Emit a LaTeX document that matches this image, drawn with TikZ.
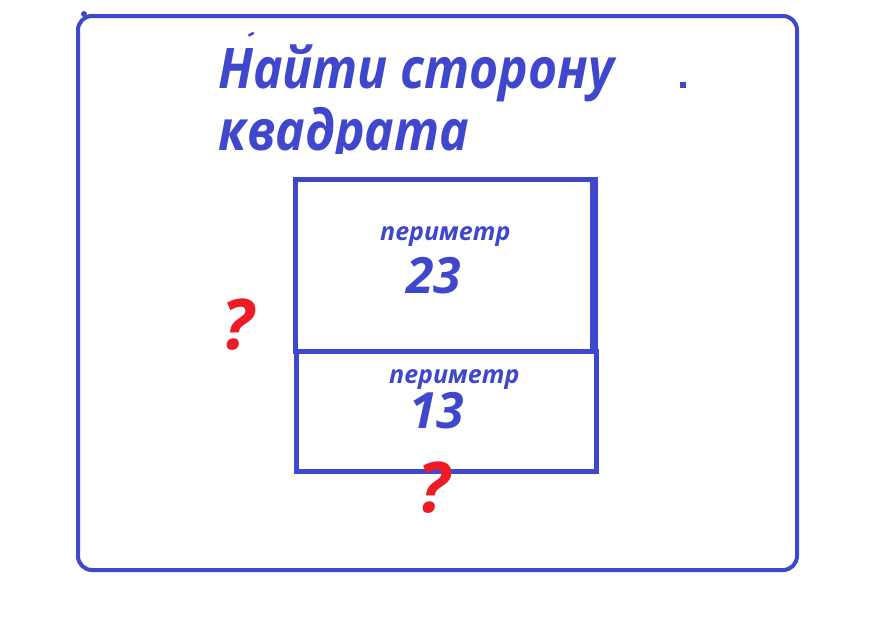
\documentclass[tikz,border=0pt]{standalone}
\usepackage{fontspec}
\setmainfont{Open Sans}
\newfontfamily\narrowfont[FakeStretch=0.89]{Open Sans}
\definecolor{pblue}{HTML}{3F48CC}
\definecolor{pred}{HTML}{ED1C24}

\begin{document}
\begin{tikzpicture}[x=1pt,y=-1pt,
		frame/.style={draw=pblue, line width=4pt, rounded corners=14pt},
		box/.style={draw=pblue, line width=5pt},
		title/.style={text=pblue, font=\narrowfont\fontsize{56}{62}\selectfont\bfseries\itshape, anchor=base west, inner sep=0pt},
		perim/.style={text=pblue, font=\fontsize{25}{26}\selectfont\bfseries\itshape, anchor=base west, inner sep=0pt},
		num/.style={text=pblue, font=\fontsize{50}{50}\selectfont\bfseries\itshape, anchor=base west, inner sep=0pt},
		ask/.style={text=pred, font=\fontsize{70}{70}\selectfont\bfseries\itshape, anchor=base west, inner sep=0pt}]
			\useasboundingbox (0,0) rectangle (884,632);
			\fill[white] (0,0) rectangle (884,632);

			\draw[frame] (78,16) rectangle (797,570); % ramka
			\fill[pblue] (84,14) circle (3);
			\fill[pblue, rotate around={30:(251,34)}] (248,33) rectangle (254,35.5);
			\fill[pblue] (680,82) rectangle (686,88);

			\begin{scope}
				\clip (0,0) rectangle (884,153);
				\node[title] (t1) at (218,88) {Найти сторону};
				\node[title] (t2) at (218,150) {квадрата};
			\end{scope}

			\draw[box] (295,179) rectangle (595,351); % verkh
			\draw[box] (296,351) rectangle (596,471); % niz
			\fill[pblue] (590,177) rectangle (598,351);

			\node[perim] (p1) at (380,240) {периметр};
			\node[num] (n1) at (406,293) {23};
			\node[perim] (p2) at (389,383) {периметр};
			\node[num] (n2) at (409,428) {13};

			\node[ask] (q1) at (221,349) {?};
			\node[ask] (q2) at (417,512) {?};
		\end{tikzpicture}
\end{document}
